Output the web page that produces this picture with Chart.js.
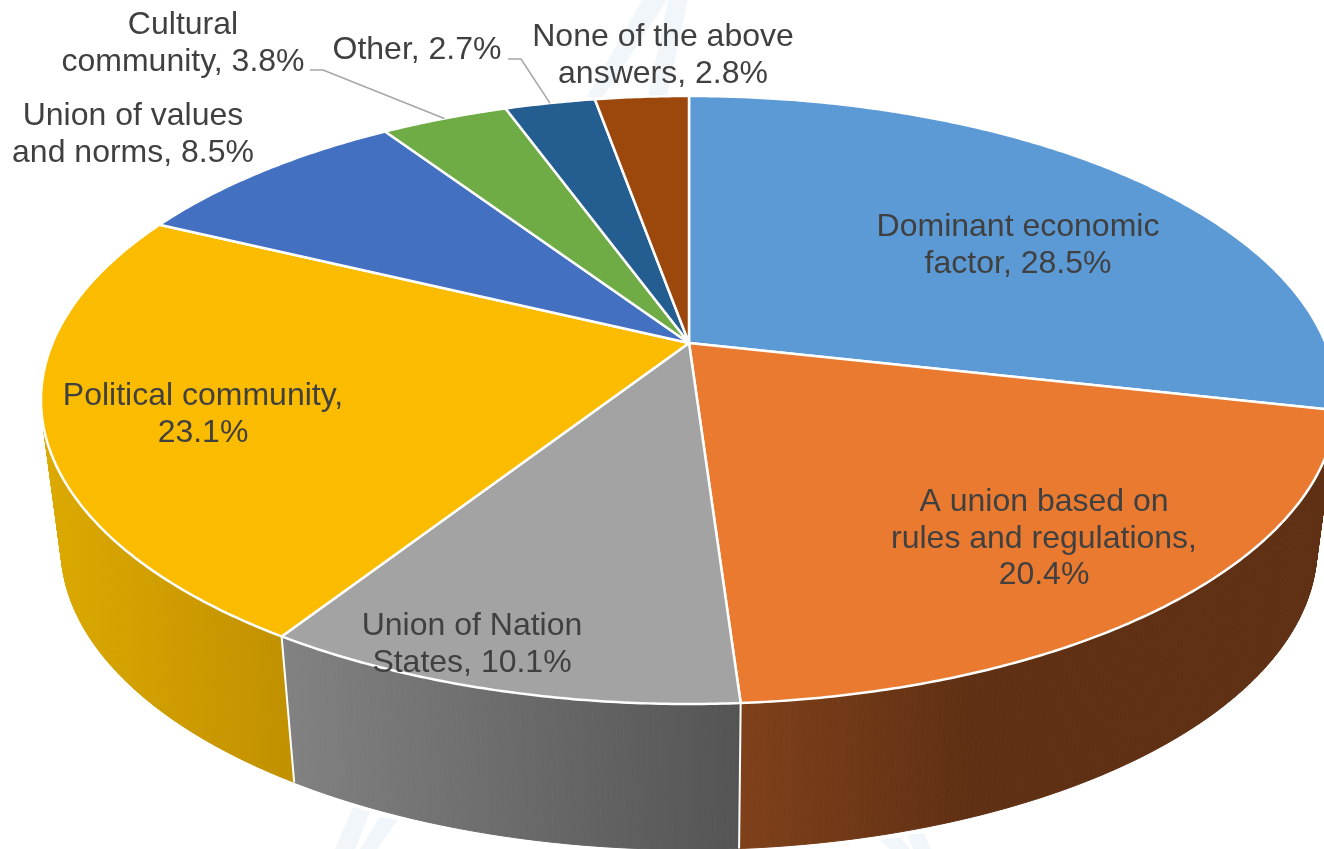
<!DOCTYPE html>
<html>
<head>
<meta charset="utf-8">
<title>Pie chart</title>
<style>
  html, body { margin: 0; padding: 0; background: #fff; overflow: hidden; }
  canvas { display: block; }
</style>
<script src="https://cdn.jsdelivr.net/npm/chart.js@4"></script>
</head>
<body>
<canvas id="theGraph" width="1324" height="849"></canvas>
<script>
var categories = ["Dominant economic factor", "A union based on rules and regulations", "Union of Nation States",
  "Political community", "Union of values and norms", "Cultural community", "Other", "None of the above answers"];
var values = [28.5, 20.4, 10.1, 23.1, 8.5, 3.8, 2.7, 2.8];

// how the labels break in the picture
var labelLines = [
  ["Dominant economic", "factor, 28.5%"],
  ["A union based on", "rules and regulations,", "20.4%"],
  ["Union of Nation", "States, 10.1%"],
  ["Political community,", "23.1%"],
  ["Union of values", "and norms, 8.5%"],
  ["Cultural", "community, 3.8%"],
  ["Other, 2.7%"],
  ["None of the above", "answers, 2.8%"]
];

var topColors = ["#5b9ad5", "#ea7a30", "#a3a3a3", "#fbbc00", "#4370c0", "#6fac46", "#245d90", "#9c470c"];
var wallFrom = ["#35597c", "#7f401a", "#828282", "#dcaa00", "#28447a", "#43682a", "#163856", "#5e2b08"];
var wallTo = ["#35597c", "#5f3013", "#545454", "#c29100", "#28447a", "#43682a", "#163856", "#5e2b08"];

// label centres (first line) and line height, px
var labelX = [1018, 1044, 472, 203, 133, 183, 417, 663];
var labelY = [227, 502, 626, 396, 116, 25, 50, 37];
var lineHeight = 36.7;

// leader lines: slice index, start of the line, end of the short flat part
var leaders = [
  { slice: 5, x0: 310, x1: 323, y: 70 },
  { slice: 6, x0: 508, x1: 521, y: 59 }
];

// faint watermark behind the pie
var watermark = [
  [[642, 0], [667, 0], [603, 97], [587, 97]],
  [[668, 0], [688, 0], [667, 97], [648, 97]],
  [[353, 807], [370, 812], [355, 849], [335, 849]],
  [[380, 817], [398, 820], [377, 849], [360, 849]],
  [[880, 840], [900, 837], [910, 849], [890, 849]],
  [[907, 835], [924, 833], [931, 849], [913, 849]]
];

// top and bottom rim of the disc, both tilted by the same perspective
var topRim = { cx: 689, cy: 400, a: 648, b: 304 };
var bottomRim = { cx: 689, cy: 547.5, a: 628, b: 302 };
var tilt = -0.1875;
var angleStep = 0.008;

function project(rim, angle, r) {
  var u = r * Math.cos(angle);
  var v = r * Math.sin(angle);
  var w = 1 + tilt * v;
  return {
    x: rim.cx + rim.a * Math.sqrt(1 - tilt * tilt) * u / w,
    y: rim.cy + rim.b * (v + tilt) / w
  };
}

function traceArc(ctx, rim, from, to) {
  var steps = Math.max(2, Math.ceil(Math.abs(to - from) / angleStep));
  for (var i = 0; i <= steps; i++) {
    var p = project(rim, from + (to - from) * i / steps, 1);
    ctx.lineTo(p.x, p.y);
  }
}

function wallGradient(ctx, arc, i) {
  var p0 = project(topRim, arc.startAngle, 1);
  var p1 = project(topRim, arc.endAngle, 1);
  var left = Math.min(p0.x, p1.x);
  var right = Math.max(p0.x, p1.x);
  if (i == 1) right = left + 230; // orange wall goes dark well before the end of the slice
  if (i == 3) left = topRim.cx - topRim.a;
  var grad = ctx.createLinearGradient(left, 0, right, 0);
  grad.addColorStop(0, wallFrom[i]);
  grad.addColorStop(1, wallTo[i]);
  return grad;
}

// sweep the rim down in small strips, so the sides of the disc come out straight
function drawWall(ctx, arc, i) {
  var grad = wallGradient(ctx, arc, i);
  var steps = Math.ceil((arc.endAngle - arc.startAngle) / angleStep);
  ctx.fillStyle = grad;
  ctx.strokeStyle = grad;
  ctx.lineWidth = 1;
  for (var k = 0; k < steps; k++) {
    var a0 = arc.startAngle + (arc.endAngle - arc.startAngle) * k / steps;
    var a1 = arc.startAngle + (arc.endAngle - arc.startAngle) * (k + 1) / steps;
    var t0 = project(topRim, a0, 1), t1 = project(topRim, a1, 1);
    var b0 = project(bottomRim, a0, 1), b1 = project(bottomRim, a1, 1);
    ctx.beginPath();
    ctx.moveTo(t0.x, t0.y);
    ctx.lineTo(t1.x, t1.y);
    ctx.lineTo(b1.x, b1.y);
    ctx.lineTo(b0.x, b0.y);
    ctx.closePath();
    ctx.fill();
    ctx.stroke();
  }
}

var pie3d = {
  id: "pie3d",
  beforeDraw: function(chart) {
    var ctx = chart.ctx;
    ctx.save();
    ctx.fillStyle = "#f1f6fb";
    watermark.forEach(function(shape) {
      ctx.beginPath();
      shape.forEach(function(pt) { ctx.lineTo(pt[0], pt[1]); });
      ctx.closePath();
      ctx.fill();
    });
    ctx.restore();
  },
  // the library works out the angles of the slices, we only project them
  beforeDatasetsDraw: function(chart) {
    var ctx = chart.ctx;
    var arcs = chart.getDatasetMeta(0).data;
    ctx.save();

    arcs.forEach(function(arc, i) {
      drawWall(ctx, arc, i);
    });

    // white seams between the walls
    ctx.strokeStyle = "#ffffff";
    ctx.lineWidth = 2;
    arcs.forEach(function(arc) {
      var a = project(topRim, arc.endAngle, 1);
      var b = project(bottomRim, arc.endAngle, 1);
      if (a.x > chart.width) return;
      ctx.beginPath();
      ctx.moveTo(a.x, a.y);
      ctx.lineTo(b.x, b.y);
      ctx.stroke();
    });

    // top face
    ctx.lineJoin = "round";
    arcs.forEach(function(arc) {
      var c = project(topRim, 0, 0);
      ctx.beginPath();
      ctx.moveTo(c.x, c.y);
      traceArc(ctx, topRim, arc.startAngle, arc.endAngle);
      ctx.closePath();
      ctx.fillStyle = arc.options.backgroundColor;
      ctx.fill();
      ctx.strokeStyle = arc.options.borderColor;
      ctx.lineWidth = arc.options.borderWidth;
      ctx.stroke();
    });

    // leader lines
    ctx.strokeStyle = "#a6a6a6";
    ctx.lineWidth = 1.5;
    leaders.forEach(function(l) {
      var arc = arcs[l.slice];
      var end = project(topRim, (arc.startAngle + arc.endAngle) / 2, 1);
      ctx.beginPath();
      ctx.moveTo(l.x0, l.y);
      ctx.lineTo(l.x1, l.y);
      ctx.lineTo(end.x, end.y);
      ctx.stroke();
    });

    // labels
    ctx.fillStyle = "#404040";
    ctx.font = '32px "Liberation Sans", Arial, sans-serif';
    ctx.textAlign = "center";
    ctx.textBaseline = "middle";
    labelLines.forEach(function(lines, i) {
      lines.forEach(function(text, k) {
        ctx.fillText(text, labelX[i], labelY[i] + k * lineHeight);
      });
    });

    ctx.restore();
    return false;
  }
};

var chart = new Chart(document.getElementById("theGraph").getContext("2d"), {
  type: "pie",
  data: {
    labels: categories,
    datasets: [{
      data: values,
      backgroundColor: topColors,
      borderColor: "#ffffff",
      borderWidth: 2.5
    }]
  },
  options: {
    responsive: false,
    animation: false,
    plugins: {
      legend: { display: false },
      tooltip: { enabled: false }
    }
  },
  plugins: [pie3d]
});
</script>
</body>
</html>
